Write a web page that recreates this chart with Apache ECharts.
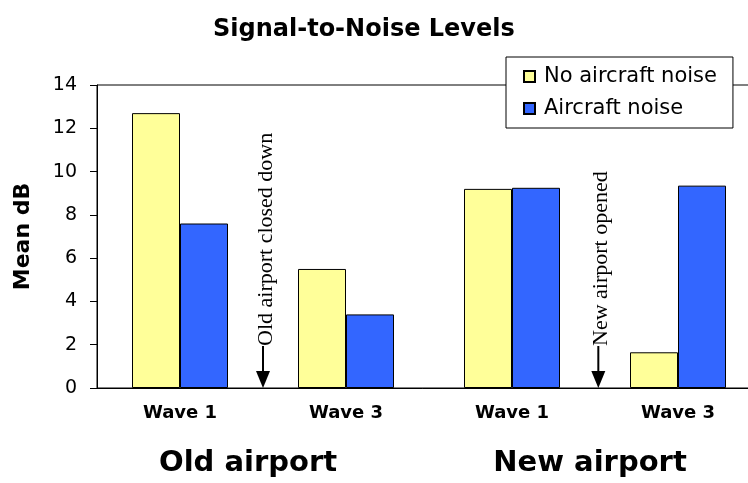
<!DOCTYPE html>
<html>
<head>
<meta charset="utf-8">
<script src="https://cdn.jsdelivr.net/npm/echarts@6/dist/echarts.min.js"></script>
<style>
  html, body { margin: 0; padding: 0; background: #fff; }
  #chart { width: 748px; height: 483px; }
</style>
</head>
<body>
<div id="chart"></div>
<script>
// values
const waves = ["Wave 1", "Wave 3", "Wave 1", "Wave 3"];
const noAircraftNoise = [12.7, 5.5, 9.2, 1.65];
const aircraftNoise = [7.6, 3.4, 9.25, 9.35];
const yTicks = [0, 2, 4, 6, 8, 10, 12, 14];

// group labels and event arrows, on a 0..4 value scale across the four waves
const groupNames = ["Old airport", "New airport"];
const groupPos = [0.91, 2.97];
const eventPos = [1, 3.02];
const eventText = ["Old airport closed down", "New airport opened"];

const black = "#000";
const sans = "DejaVu Sans";

const chart = echarts.init(document.getElementById("chart"));

chart.setOption({
  backgroundColor: "#fff",
  animation: false,
  title: {
    text: "Signal-to-Noise Levels",
    left: 208,
    top: 13,
    textStyle: { fontFamily: sans, fontWeight: "bold", fontSize: 24, color: black },
  },
  legend: {
    orient: "vertical",
    left: 506,
    top: 57,
    padding: [9, 16, 9, 17],
    itemWidth: 11,
    itemHeight: 11,
    itemGap: 11,
    icon: "rect",
    backgroundColor: "#fff",
    borderColor: black,
    borderWidth: 1,
    borderRadius: 0,
    textStyle: { fontFamily: sans, fontSize: 21, color: black, padding: [0, 0, 0, 4] },
    data: ["No aircraft noise", "Aircraft noise"],
  },
  grid: {
    left: 97,
    top: 85,
    width: 664,
    height: 303,
    outerBoundsMode: "none",
    show: true,
    borderColor: black,
    borderWidth: 1,
    backgroundColor: "transparent",
  },
  xAxis: [
    {
      type: "category",
      data: waves,
      axisLine: { lineStyle: { color: black, width: 1 } },
      axisTick: { show: false },
      axisLabel: {
        color: black,
        fontFamily: sans,
        fontWeight: "bold",
        fontSize: 18,
        margin: 16,
      },
    },
    {
      type: "value",
      min: 0,
      max: 4,
      position: "bottom",
      axisLine: { show: false },
      axisTick: { show: false },
      splitLine: { show: false },
      axisLabel: {
        customValues: groupPos,
        formatter: (v) => groupNames[groupPos.indexOf(v)] || "",
        color: black,
        fontFamily: sans,
        fontWeight: "bold",
        fontSize: 29,
        margin: 61,
      },
    },
  ],
  yAxis: {
    type: "value",
    min: yTicks[0],
    max: yTicks[yTicks.length - 1],
    interval: 2,
    name: "Mean dB",
    nameLocation: "middle",
    nameRotate: 90,
    nameGap: 63,
    nameTextStyle: { fontFamily: sans, fontWeight: "bold", fontSize: 22, color: black },
    axisLine: { show: true, lineStyle: { color: black, width: 1 } },
    axisTick: { show: true, length: 7, lineStyle: { color: black } },
    splitLine: { show: false },
    axisLabel: { color: black, fontFamily: sans, fontSize: 19, margin: 20 },
  },
  series: [
    {
      name: "No aircraft noise",
      type: "bar",
      xAxisIndex: 0,
      barWidth: 48,
      barGap: "0%",
      itemStyle: { color: "#FFFF99", borderColor: black, borderWidth: 1 },
      data: noAircraftNoise,
    },
    {
      name: "Aircraft noise",
      type: "bar",
      xAxisIndex: 0,
      barWidth: 48,
      barGap: "0%",
      itemStyle: { color: "#3366FF", borderColor: black, borderWidth: 1 },
      data: aircraftNoise,
    },
    {
      type: "custom",
      xAxisIndex: 1,
      yAxisIndex: 0,
      silent: true,
      clip: false,
      data: eventPos.map((x, i) => [x, 0, i]),
      renderItem: (params, api) => {
        const p = api.coord([api.value(0), api.value(1)]);
        const x = p[0];
        const y0 = p[1];
        return {
          type: "group",
          children: [
            {
              type: "line",
              shape: { x1: x, y1: y0 - 42, x2: x, y2: y0 - 14 },
              style: { stroke: black, lineWidth: 2 },
            },
            {
              type: "polygon",
              shape: { points: [[x - 7, y0 - 17], [x + 7, y0 - 17], [x, y0]] },
              style: { fill: black },
            },
            {
              type: "text",
              x: x + 3,
              y: y0 - 42,
              rotation: Math.PI / 2,
              style: {
                text: eventText[api.value(2)],
                font: '22px "Liberation Serif"',
                fill: black,
                align: "left",
                verticalAlign: "middle",
              },
            },
          ],
        };
      },
    },
  ],
});
</script>
</body>
</html>
